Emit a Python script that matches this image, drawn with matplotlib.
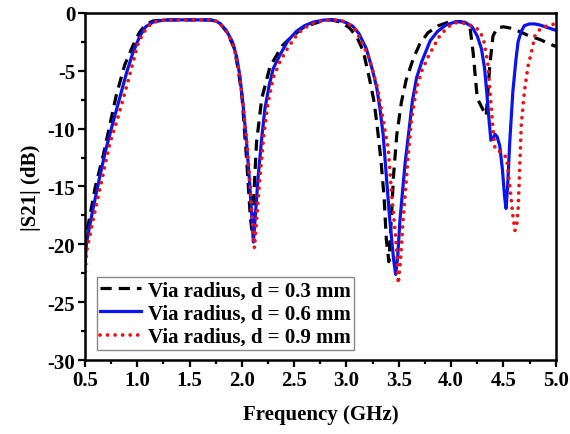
import matplotlib
matplotlib.use('Agg')
import matplotlib.pyplot as plt
from matplotlib.ticker import MultipleLocator

plt.rcParams['font.family'] = ['Liberation Serif', 'DejaVu Serif']
plt.rcParams['font.weight'] = 'bold'
plt.rcParams['axes.unicode_minus'] = False

# d = 0.3 mm (black dashed)
freq_03 = [0.50, 0.53, 0.60, 0.675, 0.74, 0.80, 0.88, 0.96, 1.02, 1.08, 1.15, 1.25, 1.70,
           1.75, 1.80, 1.86, 1.93, 1.97, 2.00, 2.045, 2.08, 2.095, 2.11, 2.14, 2.19, 2.27,
           2.39, 2.46, 2.58, 2.68, 2.78, 2.85, 2.95, 3.03, 3.10, 3.16, 3.22, 3.26, 3.29,
           3.33, 3.36, 3.38, 3.405, 3.43, 3.45, 3.48, 3.525, 3.57, 3.64, 3.70, 3.78, 3.88,
           3.99, 4.08, 4.14, 4.18, 4.21, 4.23, 4.25, 4.29, 4.335, 4.35, 4.37, 4.40, 4.44,
           4.50, 4.56, 4.65, 4.75, 4.85, 4.92, 5.00]
s21_03 = [-20.3, -18.4, -15.0, -12.3, -9.6, -7.1, -4.5, -2.8, -1.7, -1.0, -0.7, -0.6, -0.6,
          -0.7, -1.0, -1.7, -3.1, -5.2, -7.1, -12.6, -17.5, -18.8, -16.5, -11.2, -7.4, -4.6,
          -2.8, -2.2, -1.3, -0.95, -0.65, -0.6, -0.8, -1.3, -2.1, -3.3, -5.7, -7.5, -9.5,
          -12.8, -16.0, -19.5, -21.5, -17.5, -14.0, -10.6, -7.7, -5.8, -3.9, -2.7, -1.7, -1.1,
          -0.75, -0.75, -0.9, -1.2, -3.4, -5.4, -7.4, -8.1, -8.9, -7.0, -4.5, -2.0, -1.3,
          -1.2, -1.3, -1.6, -2.0, -2.3, -2.6, -2.9]

# d = 0.6 mm (blue solid)
freq_06 = [0.50, 0.516, 0.58, 0.643, 0.70, 0.77, 0.84, 0.90, 0.96, 1.025, 1.08, 1.15, 1.25,
           1.40, 1.60, 1.70, 1.75, 1.79, 1.85, 1.91, 1.95, 1.98, 2.01, 2.045, 2.07, 2.09,
           2.11, 2.125, 2.156, 2.19, 2.22, 2.26, 2.30, 2.36, 2.44, 2.52, 2.60, 2.68, 2.78,
           2.87, 2.95, 3.00, 3.06, 3.12, 3.19, 3.25, 3.29, 3.32, 3.35, 3.38, 3.41, 3.45,
           3.47, 3.49, 3.51, 3.53, 3.56, 3.59, 3.63, 3.67, 3.72, 3.76, 3.80, 3.87, 3.95,
           4.05, 4.13, 4.20, 4.25, 4.29, 4.32, 4.34, 4.36, 4.38, 4.395, 4.42, 4.44, 4.465,
           4.49, 4.51, 4.525, 4.54, 4.56, 4.59, 4.62, 4.64, 4.67, 4.70, 4.75, 4.80, 4.85,
           4.90, 5.00]
s21_06 = [-21.8, -19.8, -16.8, -14.1, -11.8, -9.4, -7.1, -5.1, -3.4, -2.0, -1.2, -0.8, -0.62,
          -0.6, -0.6, -0.62, -0.7, -0.9, -1.5, -2.5, -3.8, -5.4, -7.8, -11.2, -14.2, -16.9,
          -19.8, -18.0, -14.1, -10.8, -8.3, -6.3, -4.8, -3.7, -2.4, -1.6, -1.1, -0.8, -0.62,
          -0.58, -0.7, -0.85, -1.15, -1.8, -3.1, -5.0, -6.5, -8.3, -10.5, -14.0, -17.5, -21.3,
          -22.6, -21.0, -18.0, -16.0, -13.0, -10.7, -7.6, -5.6, -4.2, -3.3, -2.4, -1.6, -1.05,
          -0.75, -0.8, -1.2, -2.0, -3.1, -4.8, -6.8, -9.0, -11.0, -10.9, -10.5, -10.7, -11.5,
          -13.5, -15.8, -16.9, -15.0, -11.2, -6.8, -4.0, -2.5, -1.6, -1.1, -0.95, -0.95, -1.05,
          -1.2, -1.5]

# d = 0.9 mm (red dotted)
freq_09 = [0.50, 0.516, 0.58, 0.643, 0.74, 0.82, 0.90, 0.95, 1.01, 1.06, 1.14, 1.22, 1.30,
           1.70, 1.75, 1.80, 1.86, 1.92, 1.97, 2.01, 2.05, 2.08, 2.10, 2.12, 2.14, 2.17,
           2.21, 2.25, 2.30, 2.36, 2.42, 2.50, 2.58, 2.68, 2.78, 2.88, 2.96, 3.02, 3.08,
           3.14, 3.22, 3.30, 3.35, 3.40, 3.43, 3.46, 3.48, 3.495, 3.515, 3.54, 3.57, 3.59,
           3.62, 3.67, 3.72, 3.78, 3.84, 3.89, 3.96, 4.02, 4.08, 4.15, 4.22, 4.27, 4.31,
           4.35, 4.37, 4.385, 4.40, 4.42, 4.47, 4.53, 4.56, 4.59, 4.61, 4.625, 4.64, 4.655,
           4.67, 4.70, 4.735, 4.77, 4.80, 4.85, 4.93, 5.00]
s21_09 = [-23.0, -20.6, -17.8, -15.2, -11.2, -8.9, -6.3, -4.6, -2.6, -1.7, -0.85, -0.65, -0.6,
          -0.6, -0.7, -1.0, -1.7, -2.8, -4.9, -7.8, -11.5, -15.0, -17.8, -20.3, -18.0, -14.5,
          -10.5, -7.8, -5.6, -4.3, -3.3, -2.2, -1.4, -0.9, -0.65, -0.6, -0.7, -0.95, -1.4,
          -2.4, -4.0, -6.6, -9.2, -11.8, -15.5, -18.4, -20.5, -23.4, -21.5, -18.0, -14.6, -12.3,
          -9.3, -6.5, -5.0, -3.8, -2.8, -2.0, -1.3, -0.9, -0.8, -0.95, -1.2, -1.5, -2.3,
          -4.3, -6.6, -8.3, -10.0, -11.8, -12.0, -12.5, -14.9, -17.5, -18.8, -18.5, -17.0, -13.5,
          -9.7, -6.8, -4.6, -3.3, -2.0, -1.4, -1.05, -0.95]

labels = ['Via radius, d = 0.3 mm', 'Via radius, d = 0.6 mm', 'Via radius, d = 0.9 mm']

fig = plt.figure(figsize=(5.7, 4.35), dpi=100)
ax = fig.add_axes([0.149, 0.170, 0.826, 0.798])

ax.plot(freq_03, s21_03, color='black', lw=2.3, linestyle=(0, (3.5, 2.2)), label=labels[0])
ax.plot(freq_06, s21_06, color='#0a14f0', lw=2.3, label=labels[1])
ax.plot(freq_09, s21_09, color='#f01010', lw=2.7, linestyle=(0, (0.01, 2.0)),
        dash_capstyle='round', label=labels[2])

ax.set_xlim(0.5, 5.0)
ax.set_ylim(-30, 0)
ax.xaxis.set_major_locator(MultipleLocator(0.5))
ax.xaxis.set_minor_locator(MultipleLocator(0.25))
ax.yaxis.set_major_locator(MultipleLocator(5))
ax.yaxis.set_minor_locator(MultipleLocator(2.5))
ax.xaxis.set_major_formatter(plt.FormatStrFormatter('%.1f'))
ax.yaxis.set_major_formatter(plt.FormatStrFormatter('%d'))
ax.tick_params(which='both', direction='out', top=False, right=False, width=1.6)
ax.tick_params(which='major', length=5, labelsize=15, pad=2)
ax.tick_params(which='minor', length=3)
for sp in ax.spines.values():
    sp.set_linewidth(1.8)

ax.set_xlabel('Frequency (GHz)', fontsize=15, fontweight='bold', labelpad=10)
ax.set_ylabel('|S21| (dB)', fontsize=15, fontweight='bold', labelpad=5)

leg = ax.legend(loc='lower left', bbox_to_anchor=(0.025, 0.029), borderaxespad=0,
                prop={'size': 15, 'weight': 'bold'}, handlelength=2.0, handletextpad=0.3,
                labelspacing=0.15, borderpad=0.15, fancybox=False, framealpha=1)
leg.get_frame().set_edgecolor('#888888')
leg.get_frame().set_linewidth(1.0)

plt.savefig('out.png', dpi=100)
